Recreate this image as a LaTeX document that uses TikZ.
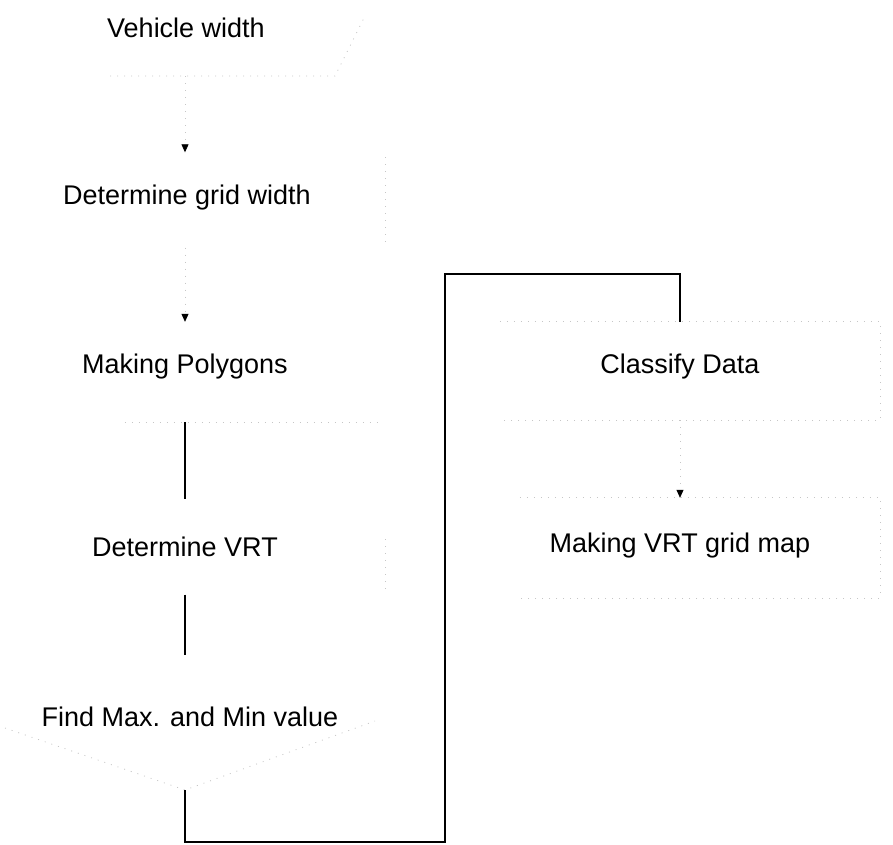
\documentclass[tikz,border=0pt]{standalone}
\usepackage{fontspec}
\setmainfont{Liberation Sans}
\usetikzlibrary{arrows.meta}

\begin{document}
\begin{tikzpicture}[x=1pt,y=-1pt,
  lbl/.style={font=\fontsize{27}{30}\selectfont, inner sep=0pt},
  faint/.style={draw=gray!45, line width=0.8pt, dash pattern=on 1pt off 6pt},
  boxnode/.style={rectangle, minimum width=400pt, minimum height=95pt, inner sep=0pt},
  link/.style={line width=1.3pt, draw=black},
  fadelink/.style={faint, -{Triangle[width=7pt,length=8pt,black]}}
]
\useasboundingbox (0,0) rectangle (893,844);

% --- left column -------------------------------------------------------
% input: vehicle width (parallelogram, faded outline)
\draw[faint] (110,76) -- (335,76) -- (365,16);
\node[lbl] (vw) at (186,28) {Vehicle width};
\coordinate (vwB) at (185,76);

\node[boxnode] (gw) at (185,200) {};
\node[lbl] at (187,198) {Determine grid width};
\draw[faint] ([yshift=-5pt]gw.north east) -- ([yshift=5pt]gw.south east);

\node[boxnode, minimum height=100pt] (mp) at (185,372) {};
\node[lbl] at (185,367) {Making Polygons};
\draw[faint] ([xshift=140pt]mp.south west) -- ([xshift=-5pt]mp.south east);

\node[boxnode] (vrt) at (185,547) {};
\node[lbl] at (185,547) {Determine VRT};
\draw[faint] ([yshift=-40pt]vrt.north east) -- ([yshift=3pt]vrt.south east);

% decision: find max and min (diamond, faded outline)
\node[lbl] (mm) at (190,717) {Find Max. and Min value};
\coordinate (mmT) at (185,655);
\coordinate (mmB) at (185,790);
\coordinate (mmL) at (5,728);
\coordinate (mmR) at (375,721);
\draw[faint] (mmL) -- (mmB) -- (mmR);

% --- right column ------------------------------------------------------
\node[boxnode, minimum height=98pt] (cd) at (680,371) {};
\node[lbl] at (680,367) {Classify Data};
\draw[faint] ([xshift=20pt]cd.north west) -- (cd.north east) -- (cd.south east)
             -- ([xshift=20pt]cd.south west);

\node[boxnode, minimum height=100pt] (gm) at (680,548) {};
\node[lbl] at (680,546) {Making VRT grid map};
\draw[faint] ([xshift=40pt]gm.north west) -- (gm.north east) -- (gm.south east)
             -- ([xshift=40pt]gm.south west);

% --- connectors ----------------------------------------------------------
\draw[fadelink] (vwB) -- (gw.north);
\draw[fadelink] (gw.south) -- (mp.north);
\draw[link] (mp.south) -- (vrt.north);
\draw[link] (vrt.south) -- (mmT);
\coordinate (c1) at (185,842);
\coordinate (c2) at (445,842);
\coordinate (c3) at (445,274);
\coordinate (c4) at (680,274);
\draw[link] (mmB) -- (c1) -- (c2) -- (c3) -- (c4) -- (cd.north);
\draw[fadelink] (cd.south) -- (gm.north);
\end{tikzpicture}
\end{document}
